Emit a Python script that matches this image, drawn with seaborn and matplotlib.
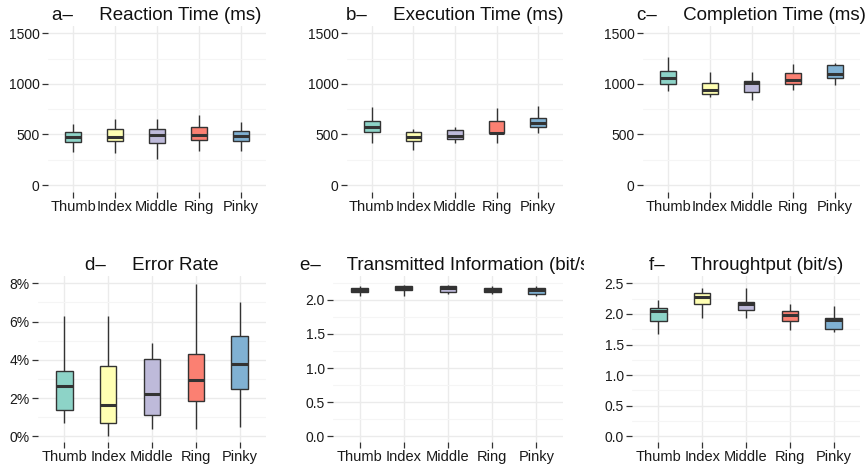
import numpy as np
import pandas as pd
import matplotlib
matplotlib.use("Agg")
import matplotlib.pyplot as plt
from matplotlib.transforms import Bbox
from matplotlib.ticker import MultipleLocator, FuncFormatter
import seaborn as sns

# five-number summaries per finger: [whisker low, q1, median, q3, whisker high]
fingers = ["Thumb", "Index", "Middle", "Ring", "Pinky"]
colors = ["#8DD3C7", "#FFFFB3", "#BEBADA", "#FB8072", "#80B1D3"]

reaction = [[330, 429, 478, 527, 603],
            [320, 438, 478, 551, 653],
            [254, 419, 495, 551, 653],
            [336, 445, 495, 570, 692],
            [340, 435, 485, 537, 620]]
execution = [[412, 527, 577, 636, 768],
             [346, 435, 478, 527, 551],
             [412, 452, 485, 544, 577],
             [419, 511, 518, 636, 758],
             [518, 570, 610, 659, 781]]
completion = [[933, 999, 1055, 1128, 1269],
              [874, 900, 940, 1006, 1121],
              [841, 917, 1006, 1029, 1121],
              [940, 996, 1038, 1111, 1193],
              [989, 1062, 1095, 1187, 1210]]
error_rate = [[0.68, 1.40, 2.61, 3.41, 6.28],
              [0.00, 0.68, 1.65, 3.66, 6.28],
              [0.39, 1.14, 2.19, 4.03, 4.90],
              [0.39, 1.87, 2.92, 4.32, 7.95],
              [0.51, 2.49, 3.80, 5.25, 7.00]]
transmitted = [[2.05, 2.12, 2.15, 2.18, 2.21],
               [2.06, 2.14, 2.17, 2.21, 2.22],
               [2.09, 2.12, 2.17, 2.20, 2.22],
               [2.09, 2.11, 2.14, 2.17, 2.21],
               [2.05, 2.09, 2.14, 2.17, 2.21]]
throughput = [[1.68, 1.88, 2.05, 2.09, 2.23],
              [1.93, 2.16, 2.27, 2.35, 2.43],
              [1.94, 2.06, 2.17, 2.20, 2.42],
              [1.73, 1.88, 1.98, 2.05, 2.16],
              [1.71, 1.76, 1.90, 1.93, 2.13]]

titles = ["a\u2013     Reaction Time (ms)", "b\u2013     Execution Time (ms)",
          "c\u2013     Completion Time (ms)", "d\u2013     Error Rate",
          "e\u2013     Transmitted Information (bit/s)", "f\u2013     Throughtput (bit/s)"]

W, H = 867, 470
# panel boxes in pixels: left, top, right, bottom
panels = [(48, 26, 266, 192), (347, 26, 563, 192), (643, 26, 860, 192),
          (38, 276, 266, 441.5), (333, 276, 563, 441.5), (632, 276, 860, 441.5)]
ylims = [(-69, 1572), (-69, 1572), (-69, 1572), (-0.27, 8.38), (-0.076, 2.35), (-0.085, 2.62)]
majors = [500, 500, 500, 2, 0.5, 0.5]

sns.set_style("white")
plt.rcParams["font.family"] = ["Liberation Sans", "DejaVu Sans"]

fig = plt.figure(figsize=(W / 100, H / 100), dpi=100)
datasets = [reaction, execution, completion, error_rate, transmitted, throughput]

for i, summ in enumerate(datasets):
    l, t, r, b = panels[i]
    ax = fig.add_axes([l / W, 1 - b / H, (r - l) / W, (b - t) / H])
    rows = []
    for f, vals in zip(fingers, summ):
        for v in vals:
            rows.append({"finger": f, "value": v})
    df = pd.DataFrame(rows)
    sns.boxplot(data=df, x="finger", y="value", hue="finger", order=fingers,
                hue_order=fingers, palette=colors, saturation=1, whis=np.inf, width=0.38,
                linecolor="#333333", linewidth=1.0, showcaps=False,
                medianprops=dict(linewidth=2.2, color="#333333"),
                legend=False, ax=ax, zorder=3)
    ax.set_xlim(-0.6, 4.6)
    ax.set_ylim(*ylims[i])
    ax.yaxis.set_major_locator(MultipleLocator(majors[i]))
    ax.yaxis.set_minor_locator(MultipleLocator(majors[i] / 2))
    if i == 3:
        ax.yaxis.set_major_formatter(FuncFormatter(lambda v, p: f"{v:.0f}%"))
    elif i >= 4:
        ax.yaxis.set_major_formatter(FuncFormatter(lambda v, p: f"{v:.1f}"))
    ax.grid(True, which="major", color="#ebebeb", linewidth=1.0, zorder=0)
    ax.grid(True, which="minor", axis="y", color="#f5f5f5", linewidth=0.8, zorder=0)
    ax.set_axisbelow(True)
    for s in ax.spines.values():
        s.set_visible(False)
    ax.tick_params(axis="both", which="major", bottom=True, left=True,
                   length=4, width=0.9, color="#333333",
                   labelcolor="#1a1a1a", pad=2)
    ax.tick_params(axis="x", labelsize=10.5)
    ax.tick_params(axis="y", labelsize=10)
    ax.tick_params(axis="y", which="minor", length=0)
    ax.set_xlabel("")
    ax.set_ylabel("")
    title = ax.set_title(titles[i], fontsize=13.5, color="#111111", pad=4)
    if i == 4:
        title.set_clip_box(Bbox.from_extents(0, 0, 584, H))
        title.set_clip_on(True)

fig.savefig("out.png", dpi=100)
